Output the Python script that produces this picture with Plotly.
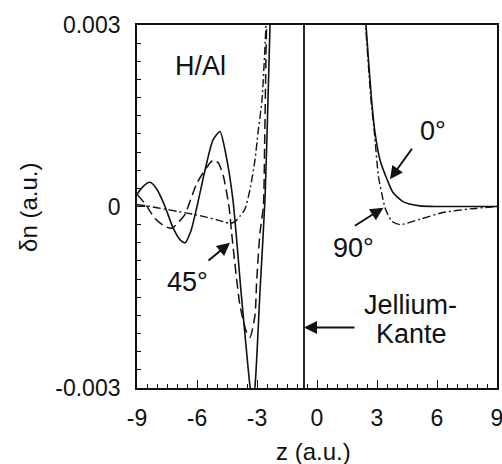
import plotly.graph_objects as go

# Induced density δn(z) for H on Al, three orientations (0°, 45°, 90°)
# Left branch: z < jellium edge, right branch: z > jellium edge
z0_left = [-9.0, -8.7, -8.35, -8.0, -7.6, -7.2, -6.85, -6.6, -6.3, -6.0, -5.6, -5.2,
           -4.85, -4.55, -4.2, -3.8, -3.55, -3.35, -3.22, -3.1, -2.85, -2.6, -2.45, -2.35, -2.3]
dn0_left = [0.00020, 0.00033, 0.00040, 0.00028, 0.0, -0.00035, -0.00055, -0.00060, -0.00040,
            0.0, 0.00060, 0.00110, 0.00124, 0.00085, 0.00010, -0.00140, -0.00230, -0.00297,
            -0.00320, -0.00297, -0.00140, 0.00012, 0.00176, 0.00300, 0.00360]

z45_left = [-9.0, -8.6, -8.1, -7.6, -7.25, -6.9, -6.6, -6.0, -5.35, -5.18, -4.93, -4.68,
            -4.4, -4.27, -3.85, -3.52, -3.35, -3.1, -3.02, -2.85, -2.68, -2.62, -2.55, -2.5]
dn45_left = [0.00020, 0.00005, -0.00020, -0.00033, -0.00036, -0.00025, -0.00013, 0.00039,
             0.00072, 0.00077, 0.00072, 0.00050, 0.0, -0.00043, -0.00164, -0.00208, -0.00216,
             -0.00180, -0.00126, -0.00043, 0.0, 0.00100, 0.00250, 0.00340]

z90_left = [-9.0, -8.5, -8.0, -7.5, -7.0, -6.5, -6.0, -5.5, -5.0, -4.6, -4.35, -4.1, -3.85,
            -3.6, -3.35, -3.1, -2.95, -2.75, -2.55, -2.5]
dn90_left = [0.00003, 0.00001, -0.00002, -0.00005, -0.00008, -0.00011, -0.00014, -0.00018,
             -0.00022, -0.00026, -0.00028, -0.00025, -0.00016, -0.00004, 0.00028, 0.00077,
             0.00122, 0.00176, 0.00300, 0.00340]

z0_right = [2.4, 2.45, 2.73, 2.9, 3.15, 3.5, 3.8, 4.3, 5.15, 6.0, 7.0, 8.0, 9.0]
dn0_right = [0.00340, 0.00300, 0.00176, 0.00122, 0.00077, 0.00045, 0.00023, 0.00008,
             0.00001, 0.0, 0.0, 0.0, 0.0]

z90_right = [2.38, 2.43, 2.7, 2.87, 3.07, 3.23, 3.4, 3.73, 4.15, 5.15, 6.3, 7.65, 9.0]
dn90_right = [0.00340, 0.00300, 0.00176, 0.00122, 0.00050, 0.00023, -0.00002, -0.00024,
              -0.00030, -0.00021, -0.00010, -0.00004, 0.0]

JELLIUM_EDGE = -0.65

x_ticks = [-9, -6, -3, 0, 3, 6, 9]
y_ticks = [-0.003, 0, 0.003]
y_tick_text = ["-0.003", "0", "0.003"]

FONT = "Liberation Sans, Arial, sans-serif"
BLACK = "#111111"

SOLID = dict(color=BLACK, width=1.6)
DASHED = dict(color=BLACK, width=1.5, dash="10px,5px")
DASHDOT = dict(color=BLACK, width=1.4, dash="8px,3px,2px,3px")

fig = go.Figure()
for zs, ys, style in [
    (z0_left, dn0_left, SOLID),
    (z45_left, dn45_left, DASHED),
    (z90_left, dn90_left, DASHDOT),
    (z0_right, dn0_right, SOLID),
    (z90_right, dn90_right, DASHDOT),
]:
    fig.add_trace(go.Scatter(x=zs, y=ys, mode="lines", line=dict(shape="spline", smoothing=0.6, **style),
                             hoverinfo="skip", showlegend=False))

# jellium edge
fig.add_shape(type="line", xref="x", yref="paper", x0=JELLIUM_EDGE, x1=JELLIUM_EDGE, y0=0, y1=1,
              line=dict(color=BLACK, width=1.8))

label_font = dict(family=FONT, size=27, color=BLACK)
arrow = dict(showarrow=True, arrowhead=2, arrowsize=1.3, arrowwidth=2, arrowcolor=BLACK, axref="pixel", ayref="pixel")

annotations = [
    dict(x=-5.85, y=0.00232, text="H/Al", showarrow=False, font=label_font),
    dict(x=5.8, y=0.00125, text="0°", showarrow=False, font=label_font),
    dict(x=1.8, y=-0.00068, text="90°", showarrow=False, font=label_font),
    dict(x=-6.5, y=-0.00125, text="45°", showarrow=False, font=label_font),
    dict(x=4.65, y=-0.00163, text="Jellium-", showarrow=False, font=label_font),
    dict(x=4.7, y=-0.0021, text="Kante", showarrow=False, font=label_font),
    dict(x=3.65, y=0.00045, ax=23, ay=-32, text="", **arrow),
    dict(x=3.32, y=-0.00002, ax=-30, ay=19, text="", **arrow),
    dict(x=-4.35, y=-0.0006, ax=-23, ay=19, text="", **arrow),
    dict(x=JELLIUM_EDGE, y=-0.002, ax=52, ay=0, text="", **arrow),
    dict(xref="paper", yref="paper", x=0.489, y=-0.176, xanchor="center", yanchor="middle",
         text="z (a.u.)", showarrow=False, font=dict(family=FONT, size=24, color=BLACK)),
    dict(xref="paper", yref="paper", x=-0.303, y=0.4986, xanchor="center", yanchor="middle",
         text="δn (a.u.)", textangle=-90, showarrow=False, font=dict(family=FONT, size=24, color=BLACK)),
]
for a in annotations:
    fig.add_annotation(**a)

axis_common = dict(showgrid=False, zeroline=False, showline=True, linecolor=BLACK, linewidth=1.8,
                   mirror=True, ticks="inside", tickcolor=BLACK, tickwidth=1.2, ticklen=8,
                   automargin=False, ticklabeloverflow="allow",
                   tickfont=dict(family=FONT, size=23, color=BLACK))

fig.update_layout(
    width=502, height=464,
    margin=dict(l=137, r=5, t=25, b=76),
    paper_bgcolor="white", plot_bgcolor="white",
    showlegend=False,
    xaxis=dict(range=[-9, 9], tickvals=x_ticks, ticktext=[str(v) for v in x_ticks],
               minor=dict(dtick=0.5, tick0=-9, ticks="inside", ticklen=4, tickcolor=BLACK, tickwidth=1),
               ticklabelstandoff=8, **axis_common),
    yaxis=dict(range=[-0.003, 0.003], tickvals=y_ticks, ticktext=y_tick_text,
               minor=dict(dtick=0.0003, tick0=-0.003, ticks="inside", ticklen=4, tickcolor=BLACK, tickwidth=1),
               ticklabelstandoff=10, **axis_common),
)

fig.write_html("out.html")
